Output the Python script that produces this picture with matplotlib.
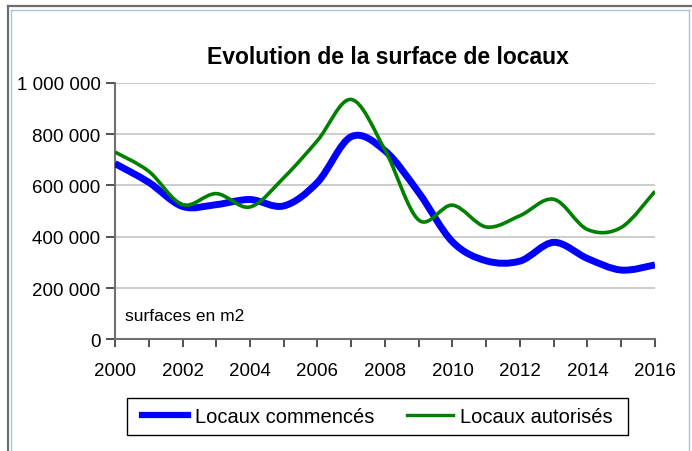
import numpy as np
import matplotlib
matplotlib.use("Agg")
import matplotlib.pyplot as plt
from matplotlib.path import Path
from matplotlib.patches import PathPatch, Rectangle
from matplotlib.lines import Line2D
from matplotlib.ticker import FuncFormatter, MultipleLocator

years = list(range(2000, 2017))
commences = [685000, 612000, 518000, 525000, 545000, 520000, 612000, 790000, 735000,
             572000, 380000, 306000, 305000, 378000, 315000, 270000, 290000]
autorises = [730000, 655000, 525000, 568000, 516000, 630000, 775000, 935000, 738000,
             465000, 523000, 438000, 482000, 546000, 428000, 436000, 577000]
labels = ["Locaux commencés", "Locaux autorisés"]
title = "Evolution de la surface de locaux"
note = "surfaces en m2"

plt.rcParams['font.family'] = ['Liberation Sans', 'DejaVu Sans']


def smooth_path(x, y):
    # excel style smoothed line: cubic bezier, control points from neighbours
    x = np.asarray(x, float)
    y = np.asarray(y, float)
    px = np.concatenate([[x[0]], x, [x[-1]]])
    py = np.concatenate([[y[0]], y, [y[-1]]])
    verts = [(x[0], y[0])]
    codes = [Path.MOVETO]
    for i in range(len(x) - 1):
        j = i + 1
        c1 = (px[j] + (px[j + 1] - px[j - 1]) / 6, py[j] + (py[j + 1] - py[j - 1]) / 6)
        c2 = (px[j + 1] - (px[j + 2] - px[j]) / 6, py[j + 1] - (py[j + 2] - py[j]) / 6)
        verts += [c1, c2, (x[i + 1], y[i + 1])]
        codes += [Path.CURVE4] * 3
    return Path(verts, codes)


fig = plt.figure(figsize=(6.92, 4.52), dpi=100)
ax = fig.add_axes([0.1662, 0.2471, 0.7803, 0.5675])

ax.set_xlim(2000, 2016)
ax.set_ylim(0, 1000000)
ax.yaxis.set_major_locator(MultipleLocator(200000))
ax.xaxis.set_major_locator(MultipleLocator(2))
ax.xaxis.set_minor_locator(MultipleLocator(1))
ax.yaxis.set_major_formatter(FuncFormatter(lambda v, p: '{:,}'.format(int(v)).replace(',', ' ')))
ax.grid(axis='y', color='#c8c8c8', lw=1.3)
ax.set_axisbelow(True)

for s in ['top', 'right']:
    ax.spines[s].set_visible(False)
for s in ['left', 'bottom']:
    ax.spines[s].set_color('#707070')
    ax.spines[s].set_linewidth(1.5)

ax.tick_params(axis='y', length=6.5, width=1.2, color='#333333', pad=4, labelsize=13.5)
ax.tick_params(axis='x', which='both', length=6, width=1.2, color='#333333', pad=10, labelsize=13.5)

blue = '#0000ff'
green = '#008000'
ax.add_patch(PathPatch(smooth_path(years, commences), fill=False, ec=blue, lw=5,
                       capstyle='butt', zorder=3))
ax.add_patch(PathPatch(smooth_path(years, autorises), fill=False, ec=green, lw=2.6,
                       capstyle='butt', zorder=4))

ax.text(2000.3, 75000, note, fontsize=12.5, va='baseline', ha='left')

fig.text(0.5607, 0.858, title, fontsize=16.5, fontweight='bold', ha='center', va='baseline')

handles = [Line2D([], [], color=blue, lw=4.5), Line2D([], [], color=green, lw=2.4)]
leg = fig.legend(handles, labels, loc='center', bbox_to_anchor=(0.5455, 0.0763), ncol=2,
                 fontsize=14.5, frameon=False, handlelength=2.3, handletextpad=0.35,
                 columnspacing=1.6, borderpad=0.3, borderaxespad=0)
fig.add_artist(Rectangle((127 / 692, 1 - 436 / 452), 501 / 692, 37 / 452, fill=False,
                         ec='black', lw=1.0, transform=fig.transFigure))

# window style border
fig.add_artist(Line2D([7.5 / 692, 7.5 / 692], [0, 1 - 6.5 / 452], color='#6e6e6e', lw=1.6,
                      transform=fig.transFigure))
fig.add_artist(Line2D([7.5 / 692, 1], [1 - 6.5 / 452, 1 - 6.5 / 452], color='#6e6e6e', lw=1.6,
                      transform=fig.transFigure))
fig.add_artist(Line2D([11 / 692, 11 / 692], [0, 1 - 10.5 / 452], color='#a9c4dd', lw=1,
                      transform=fig.transFigure))
fig.add_artist(Line2D([11 / 692, 689 / 692], [1 - 10.5 / 452, 1 - 10.5 / 452], color='#a9c4dd',
                      lw=1, transform=fig.transFigure))
fig.add_artist(Line2D([689 / 692, 689 / 692], [0, 1 - 10.5 / 452], color='#a9c4dd', lw=1,
                      transform=fig.transFigure))

fig.savefig('out.png', dpi=100)
